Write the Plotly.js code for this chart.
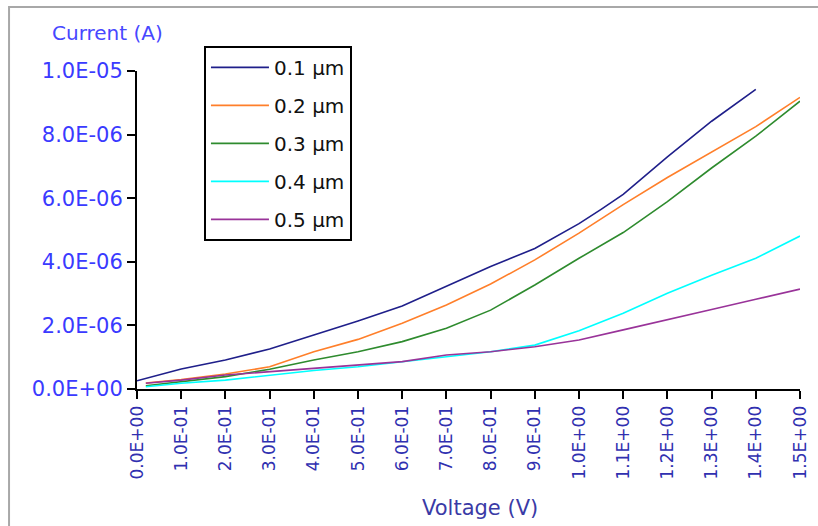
<!DOCTYPE html>
<html>
<head>
<meta charset="utf-8">
<script src="https://cdn.plot.ly/plotly-3.0.1.min.js"></script>
<style>html,body{margin:0;padding:0;background:#fff;}#chart{width:818px;height:526px;}</style>
</head>
<body>
<div id="chart"></div>
<script>
// Voltage (V) and current (units of 1E-06 A)
const seriesNames = ["0.1 µm", "0.2 µm", "0.3 µm", "0.4 µm", "0.5 µm"];
const seriesColors = ["#1f1f8a", "#ff7f2a", "#2e8b2e", "#00ffff", "#993399"];

const v01 = [0, 0.1, 0.2, 0.3, 0.4, 0.5, 0.6, 0.7, 0.8, 0.9, 1.0, 1.05, 1.1, 1.2, 1.3, 1.4];
const i01 = [0.26, 0.63, 0.91, 1.26, 1.70, 2.14, 2.61, 3.22, 3.85, 4.42, 5.20, 5.65, 6.12, 7.30, 8.42, 9.42];

const vOther = [0.02, 0.1, 0.2, 0.3, 0.4, 0.5, 0.6, 0.7, 0.8, 0.9, 1.0, 1.1, 1.2, 1.3, 1.4, 1.5];
const i02 = [0.19, 0.30, 0.47, 0.70, 1.17, 1.56, 2.07, 2.64, 3.30, 4.06, 4.90, 5.80, 6.65, 7.45, 8.25, 9.17];
const i03 = [0.10, 0.23, 0.39, 0.62, 0.91, 1.17, 1.49, 1.91, 2.48, 3.27, 4.11, 4.92, 5.89, 6.95, 7.95, 9.05];
const i04 = [0.07, 0.18, 0.28, 0.44, 0.58, 0.70, 0.86, 1.02, 1.17, 1.38, 1.83, 2.38, 3.01, 3.58, 4.11, 4.81];
const i05 = [0.18, 0.28, 0.44, 0.54, 0.65, 0.75, 0.86, 1.07, 1.17, 1.33, 1.54, 1.86, 2.17, 2.50, 2.82, 3.14];

const xTickVals = [0, 0.1, 0.2, 0.3, 0.4, 0.5, 0.6, 0.7, 0.8, 0.9, 1.0, 1.1, 1.2, 1.3, 1.4, 1.5];
const xTickText = ["0.0E+00", "1.0E-01", "2.0E-01", "3.0E-01", "4.0E-01", "5.0E-01", "6.0E-01", "7.0E-01",
                   "8.0E-01", "9.0E-01", "1.0E+00", "1.1E+00", "1.2E+00", "1.3E+00", "1.4E+00", "1.5E+00"];
const yTickVals = [0, 2e-6, 4e-6, 6e-6, 8e-6, 1e-5];
const yTickText = ["0.0E+00", "2.0E-06", "4.0E-06", "6.0E-06", "8.0E-06", "1.0E-05"];

const scale = 1e-6;
const xs = [v01, vOther, vOther, vOther, vOther];
const ys = [i01, i02, i03, i04, i05];

const traces = seriesNames.map((n, k) => ({
  type: "scatter",
  mode: "lines",
  name: n,
  legendgroup: "g" + k,
  x: xs[k],
  y: ys[k].map(v => v * scale),
  line: {color: seriesColors[k], width: 1.6},
  hoverinfo: "skip"
}));

const F = "DejaVu Sans, Arial, sans-serif";

const layout = {
  width: 818,
  height: 526,
  margin: {l: 137, r: 18, t: 71, b: 137},
  paper_bgcolor: "#ffffff",
  plot_bgcolor: "#ffffff",
  showlegend: true,
  legend: {
    x: 0.101, y: 1.079, xanchor: "left", yanchor: "top",
    bordercolor: "#000000", borderwidth: 2, bgcolor: "#ffffff",
    font: {family: F, size: 20, color: "#111111"},
    tracegroupgap: 9,
    itemwidth: 58
  },
  xaxis: {
    range: [0, 1.5],
    tickvals: xTickVals,
    ticktext: xTickText,
    tickangle: -90,
    tickfont: {family: F, size: 17, color: "#3030b0"},
    ticks: "outside", ticklen: 8, tickwidth: 2, tickcolor: "#000000",
    showline: true, linecolor: "#000000", linewidth: 2,
    showgrid: false, zeroline: false, fixedrange: true
  },
  yaxis: {
    range: [0, 1e-5],
    tickvals: yTickVals,
    ticktext: yTickText,
    tickfont: {family: F, size: 21, color: "#3a3aff"},
    ticks: "outside", ticklen: 8, tickwidth: 2, tickcolor: "#000000",
    showline: true, linecolor: "#000000", linewidth: 2,
    showgrid: false, zeroline: false, fixedrange: true
  },
  annotations: [
    {text: "Current (A)", xref: "paper", yref: "paper", x: -0.131, y: 1.12,
     xanchor: "left", yanchor: "middle", showarrow: false,
     font: {family: F, size: 20, color: "#4747ff"}},
    {text: "Voltage (V)", xref: "paper", yref: "paper", x: 0.517, y: -0.374,
     xanchor: "center", yanchor: "middle", showarrow: false,
     font: {family: F, size: 21, color: "#3a3aa6"}}
  ],
  shapes: [
    {type: "rect", xref: "paper", yref: "paper", x0: -0.193, y0: -0.6, x1: 1.2, y1: 1.201,
     line: {color: "#a8a8a8", width: 2}, layer: "below"}
  ]
};

Plotly.newPlot("chart", traces, layout, {staticPlot: true, displayModeBar: false});
</script>
</body>
</html>
